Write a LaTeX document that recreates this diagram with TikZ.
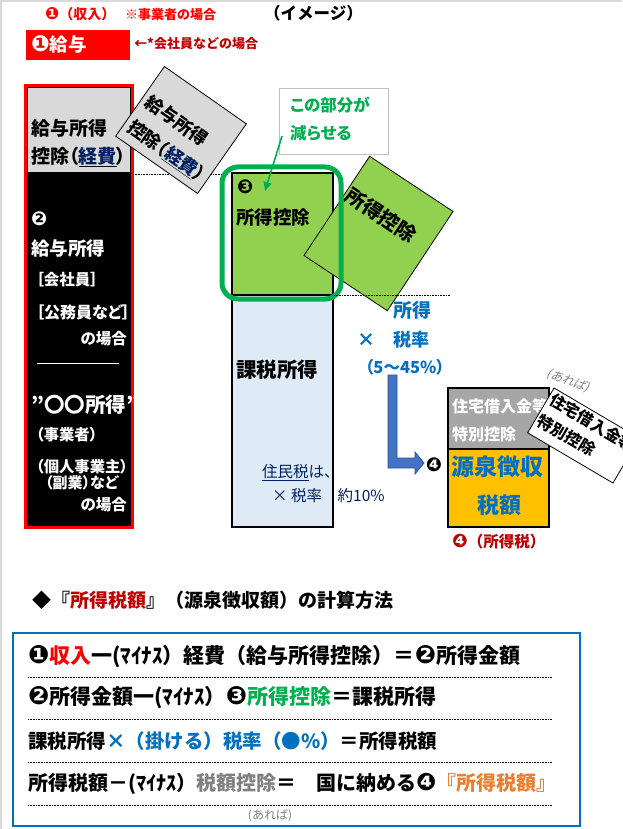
\documentclass[tikz,border=0pt]{standalone}
\usepackage{fontspec}
\setmainfont{Noto Sans CJK JP}
\newfontfamily\pfont{Noto Sans CJK JP}[RawFeature=+palt]
\newfontfamily\symfont{DejaVu Sans}
\newfontfamily\slantfont{Noto Sans CJK JP}[FakeSlant=0.2]
\usetikzlibrary{positioning, calc, arrows.meta}
\definecolor{kred}{HTML}{FF0000}
\definecolor{darkred}{HTML}{C00000}
\definecolor{navy}{HTML}{002060}
\definecolor{kgreen}{HTML}{00B050}
\definecolor{leafgreen}{HTML}{92D050}
\definecolor{kblue}{HTML}{0070C0}
\definecolor{arrowblue}{HTML}{4472C4}
\definecolor{arrowedge}{HTML}{2F528F}
\definecolor{gold}{HTML}{FFC000}
\definecolor{korange}{HTML}{ED7D31}
\definecolor{midgray}{HTML}{A6A6A6}
\definecolor{paper}{HTML}{D9D9D9}
\definecolor{skyfill}{HTML}{DEEBF7}
\definecolor{textgray}{HTML}{808080}
\definecolor{calloutgray}{HTML}{BFBFBF}
\newcommand{\sz}[1]{\fontsize{#1}{#1}\selectfont}
\newcommand{\ncirc}[1]{{\symfont\bfseries\scalebox{1.2}{#1}}}
\tikzset{
  % plain text label, placed by its left end
  lbl/.style={inner sep=0pt, anchor=west, font=\bfseries},
  % upright boxes with a black outline
  panel/.style={draw=black, line width=1.2pt, inner sep=0pt},
  % tilted cards
  card/.style={draw=black, line width=0.8pt, inner sep=0pt},
  % dotted level lines
  guide/.style={densely dotted, line width=0.6pt},
}

\begin{document}
\begin{tikzpicture}[x=1pt, y=-1pt]
  \useasboundingbox (0,0) rectangle (622,829);
  \fill[white] (0,0) rectangle (622,829);
  \draw[paper, line width=2pt] (1,829) -- (1,1) -- (622,1);

  % header
  \node[lbl, text=kred, font=\sz{14}\bfseries] (income) at (45,14) {\ncirc{❶}（収入）};
  \node[lbl, text=kred, font=\sz{13}\bfseries] (incnote) at (125,15) {※事業者の場合};
  \node[lbl, font=\sz{16.5}\bfseries] (title) at (264,13) {（イメージ）};
  \node[fill=kred, minimum width=104, minimum height=30, inner sep=0pt] (salary) at (78,45) {};
  \node[lbl, text=white, font=\sz{18.5}\bfseries] (saltxt) at (31,44) {\ncirc{❶}給与};
  \node[lbl, text=darkred, font=\sz{13}\bfseries] (salnote) at (134,44) {←*会社員などの場合};

  % level lines
  \draw[guide] (133,174) -- (228,174);

  % left column: expenses over income
  \draw[panel, fill=paper] (27,87) rectangle (131,173);
  \fill[black] (27,173) rectangle (131,526);
  \draw[kred, line width=3pt] (25.5,85.5) rectangle (132.5,527.5);
  \node[lbl, font=\pfont\sz{19}\bfseries] (exp1) at (31,128) {給与所得};
  \node[lbl, font=\pfont\sz{19}\bfseries] (exp2) at (31,157) {控除（\underline{\textcolor{navy}{経費}}）};
  \node[lbl, text=white, font=\sz{16}\bfseries] (n2) at (31,219) {\ncirc{❷}};
  \node[lbl, text=white, font=\pfont\sz{18.5}\bfseries] (inc1) at (31,248) {給与所得};
  \node[lbl, text=white, font=\pfont\sz{15.5}\bfseries] (inc2) at (36,280) {［会社員］};
  \node[lbl, text=white, font=\pfont\sz{16}\bfseries] (inc3) at (36,312) {［公務員など］};
  \node[lbl, anchor=east, text=white, font=\pfont\sz{15.5}\bfseries] (inc4) at (127,339) {の場合};
  \draw[white, line width=1pt] (37,363) -- (119,363);
  \node[lbl, text=white, font=\pfont\sz{20.5}\bfseries] (biz1) at (31,405) {”〇〇所得”};
  \node[lbl, text=white, font=\pfont\sz{15.3}\bfseries] (biz2) at (36,435) {（事業者）};
  \node[lbl, text=white, font=\pfont\sz{15.3}\bfseries] (biz3) at (36,467) {（個人事業主）};
  \node[lbl, text=white, font=\pfont\sz{15}\bfseries] (biz4) at (45,483) {（副業）など};
  \node[lbl, anchor=east, text=white, font=\pfont\sz{15.5}\bfseries] (biz5) at (127,505) {の場合};

  % tilted expense card
  \node[card, fill=paper, rotate=-35, minimum width=100, minimum height=85] (salcard) at (181,130) {};
  \node[rotate=-35, inner sep=0pt, align=left, font=\pfont\fontsize{18}{30}\selectfont\bfseries] (salcardtxt) at (175,139) {給与所得\\控除（\underline{\textcolor{navy}{経費}}）};

  % callout
  \node[draw=calloutgray, line width=0.8pt, minimum width=109, minimum height=66, inner sep=0pt] (callout) at (333.5,121) {};
  \node[lbl, text=kgreen, font=\pfont\sz{16.5}\bfseries] (call1) at (290,105) {この部分が};
  \node[lbl, text=kgreen, font=\pfont\sz{16.5}\bfseries] (call2) at (290,133) {減らせる};

  % deductions and taxable income
  \node[panel, fill=skyfill, minimum width=101, minimum height=232] (taxable) at (282.5,411) {};
  \node[panel, fill=leafgreen, minimum width=101, minimum height=122] (deduct) at (282.5,234) {};
  \node[lbl, font=\sz{16}\bfseries] (n3) at (237,187) {\ncirc{❸}};
  \node[lbl, font=\pfont\sz{18.5}\bfseries] (dedtxt) at (236,217) {所得控除};
  \node[card, fill=leafgreen, rotate=-33.5, minimum width=100, minimum height=119] (dedcard) at (378.5,233.5) {};
  \node[rotate=-33.5, inner sep=0pt, font=\pfont\sz{20}\bfseries] (dedcardtxt) at (381,215) {所得控除};
  \draw[kgreen, line width=5pt, rounded corners=16pt] (222,167) rectangle (341,299);
  \draw[guide] (334,295) -- (450,295);
  \coordinate (calltail) at (282,136);
  \coordinate (callhead) at (265,191);
  \draw[kgreen, line width=1.6pt, -{Triangle[length=9pt, width=8pt]}] (calltail) -- (callhead);

  \node[lbl, font=\pfont\sz{20.5}\bfseries] (taxtxt) at (236,370) {課税所得};
  \node[lbl, text=navy, font=\pfont\sz{15.5}] (res1) at (262,473) {\underline{住民税}は、};
  \node[lbl, text=navy, font=\pfont\sz{15.5}] (res2) at (272,496) {× 税率　約10\%};

  % rate
  \node[lbl, text=kblue, font=\pfont\sz{19}\bfseries] (rate1) at (393,310) {所得};
  \node[lbl, text=kblue, font=\pfont\sz{18}\bfseries] (rate2) at (357,340) {×\hspace{18pt}税率};
  \node[lbl, text=kblue, font=\pfont\sz{16.5}\bfseries] (rate3) at (365,367) {（5～45\%）};
  \draw[fill=arrowblue, draw=arrowedge, line width=0.8pt]
    (388,375) -- (397,375) -- (397,458) -- (415,458) -- (415,452) -- (424,463)
    -- (415,474) -- (415,468) -- (388,468) -- cycle;
  \node[font=\sz{16}\bfseries, inner sep=0pt] (n4) at (434,465) {\ncirc{❹}};

  % withholding tax
  \node[panel, fill=midgray, minimum width=101, minimum height=61] (loan) at (498.5,418.5) {};
  \node[panel, fill=gold, minimum width=101, minimum height=78] (withhold) at (498.5,488) {};
  \node[lbl, text=white, font=\pfont\sz{16}\bfseries] (loan1) at (452,406) {住宅借入金等};
  \node[lbl, text=white, font=\pfont\sz{16}\bfseries] (loan2) at (452,434) {特別控除};
  \node[lbl, text=kblue, font=\pfont\sz{23}\bfseries] (wh1) at (451,467) {源泉徴収};
  \node[text=kblue, font=\pfont\sz{22}\bfseries, inner sep=0pt] (wh2) at (499,505) {税額};
  \node[lbl, text=darkred, font=\sz{15.5}\bfseries] (whnote) at (452,542) {\ncirc{❹}（所得税）};
  \node[card, fill=white, rotate=-30.5, minimum width=99, minimum height=52] (loancard) at (583.5,435.5) {};
  \node[rotate=-30.5, anchor=north west, align=left, inner sep=3pt, font=\pfont\fontsize{16}{24}\selectfont\bfseries] (loancardtxt) at (loancard.north west) {住宅借入金等\\特別控除};
  \node[rotate=-20, text=textgray, inner sep=0pt, font=\sz{12}\slantfont] (ifany) at (568,381) {(あれば)};

  % calculation method
  \node[lbl, font=\sz{19}\bfseries] (method) at (32,600) {◆『\textcolor{darkred}{所得税額}』（源泉徴収額）の計算方法};
  \draw[kblue, line width=1.2pt] (13,633) rectangle (580,826);
  \node[lbl, font=\sz{21}\bfseries] (row1) at (28,657) {\ncirc{❶}\textcolor{kred}{収入}一(ﾏｲﾅｽ）経費（給与所得控除）＝\ncirc{❷}所得金額};
  \node[lbl, font=\sz{21}\bfseries] (row2) at (28,698) {\ncirc{❷}所得金額一(ﾏｲﾅｽ）\ncirc{❸}\textcolor{kgreen}{所得控除}＝課税所得};
  \node[lbl, font=\sz{19.5}\bfseries] (row3) at (28,741) {課税所得\textcolor{kblue}{×（掛ける）税率（●\%）}＝所得税額};
  \node[lbl, font=\sz{20}\bfseries] (row4) at (28,784) {所得税額－(ﾏｲﾅｽ）\textcolor{textgray}{税額控除}＝　国に納める\ncirc{❹}\textcolor{korange}{『所得税額』}};
  \foreach \yy in {677,719,762,805}
    \draw[guide] (28,\yy) -- (552,\yy);
  \node[text=textgray, inner sep=0pt, font=\sz{12}] (ifany2) at (270,816) {(あれば)};
\end{tikzpicture}
\end{document}
